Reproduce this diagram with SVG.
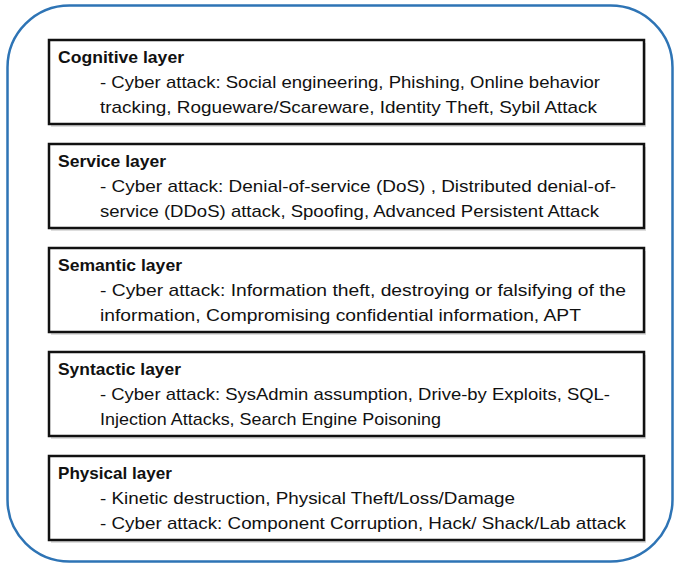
<svg xmlns="http://www.w3.org/2000/svg" width="678" height="566" viewBox="0 0 678 566">
<style>
.box{fill:#fff;stroke:#111;stroke-width:2.5}
.shadow{fill:#bbb;opacity:0.5}
.t{font-family:"Liberation Sans",Arial,sans-serif;font-size:17px;fill:#111}
.b{font-weight:bold}
</style>
<rect width="678" height="566" fill="#fff"/>
<g id="frame"><rect x="7.5" y="5.5" width="665" height="556" rx="62" ry="62" fill="none" stroke="#2E74B5" stroke-width="2.5"/></g>
<g id="cognitive">
<rect class="shadow" x="51" y="43" width="595" height="84"/>
<rect class="box" x="49" y="40" width="595" height="84"/>
<text class="t b" x="58" y="63" textLength="126" lengthAdjust="spacingAndGlyphs">Cognitive layer</text>
<text class="t" x="100" y="88" textLength="500" lengthAdjust="spacingAndGlyphs">- Cyber attack: Social engineering, Phishing, Online behavior</text>
<text class="t" x="100" y="113" textLength="497" lengthAdjust="spacingAndGlyphs">tracking, Rogueware/Scareware, Identity Theft, Sybil Attack</text>
</g>
<g id="service">
<rect class="shadow" x="51" y="147" width="595" height="84"/>
<rect class="box" x="49" y="144" width="595" height="84"/>
<text class="t b" x="58" y="167" textLength="108" lengthAdjust="spacingAndGlyphs">Service layer</text>
<text class="t" x="100" y="192" textLength="516" lengthAdjust="spacingAndGlyphs">- Cyber attack: Denial-of-service (DoS) , Distributed denial-of-</text>
<text class="t" x="100" y="217" textLength="499" lengthAdjust="spacingAndGlyphs">service (DDoS) attack, Spoofing, Advanced Persistent Attack</text>
</g>
<g id="semantic">
<rect class="shadow" x="51" y="251" width="595" height="84"/>
<rect class="box" x="49" y="248" width="595" height="84"/>
<text class="t b" x="58" y="271" textLength="124" lengthAdjust="spacingAndGlyphs">Semantic layer</text>
<text class="t" x="100" y="296" textLength="526" lengthAdjust="spacingAndGlyphs">- Cyber attack: Information theft, destroying or falsifying of the</text>
<text class="t" x="100" y="321" textLength="481" lengthAdjust="spacingAndGlyphs">information, Compromising confidential information, APT</text>
</g>
<g id="syntactic">
<rect class="shadow" x="51" y="355" width="595" height="84"/>
<rect class="box" x="49" y="352" width="595" height="84"/>
<text class="t b" x="58" y="375" textLength="123" lengthAdjust="spacingAndGlyphs">Syntactic layer</text>
<text class="t" x="100" y="400" textLength="510" lengthAdjust="spacingAndGlyphs">- Cyber attack: SysAdmin assumption, Drive-by Exploits, SQL-</text>
<text class="t" x="100" y="425" textLength="341" lengthAdjust="spacingAndGlyphs">Injection Attacks, Search Engine Poisoning</text>
</g>
<g id="physical">
<rect class="shadow" x="51" y="459" width="595" height="84"/>
<rect class="box" x="49" y="456" width="595" height="84"/>
<text class="t b" x="58" y="479" textLength="114" lengthAdjust="spacingAndGlyphs">Physical layer</text>
<text class="t" x="100" y="504" textLength="415" lengthAdjust="spacingAndGlyphs">- Kinetic destruction, Physical Theft/Loss/Damage</text>
<text class="t" x="100" y="529" textLength="526" lengthAdjust="spacingAndGlyphs">- Cyber attack: Component Corruption, Hack/ Shack/Lab attack</text>
</g>
<g id="connectors"></g>
</svg>
